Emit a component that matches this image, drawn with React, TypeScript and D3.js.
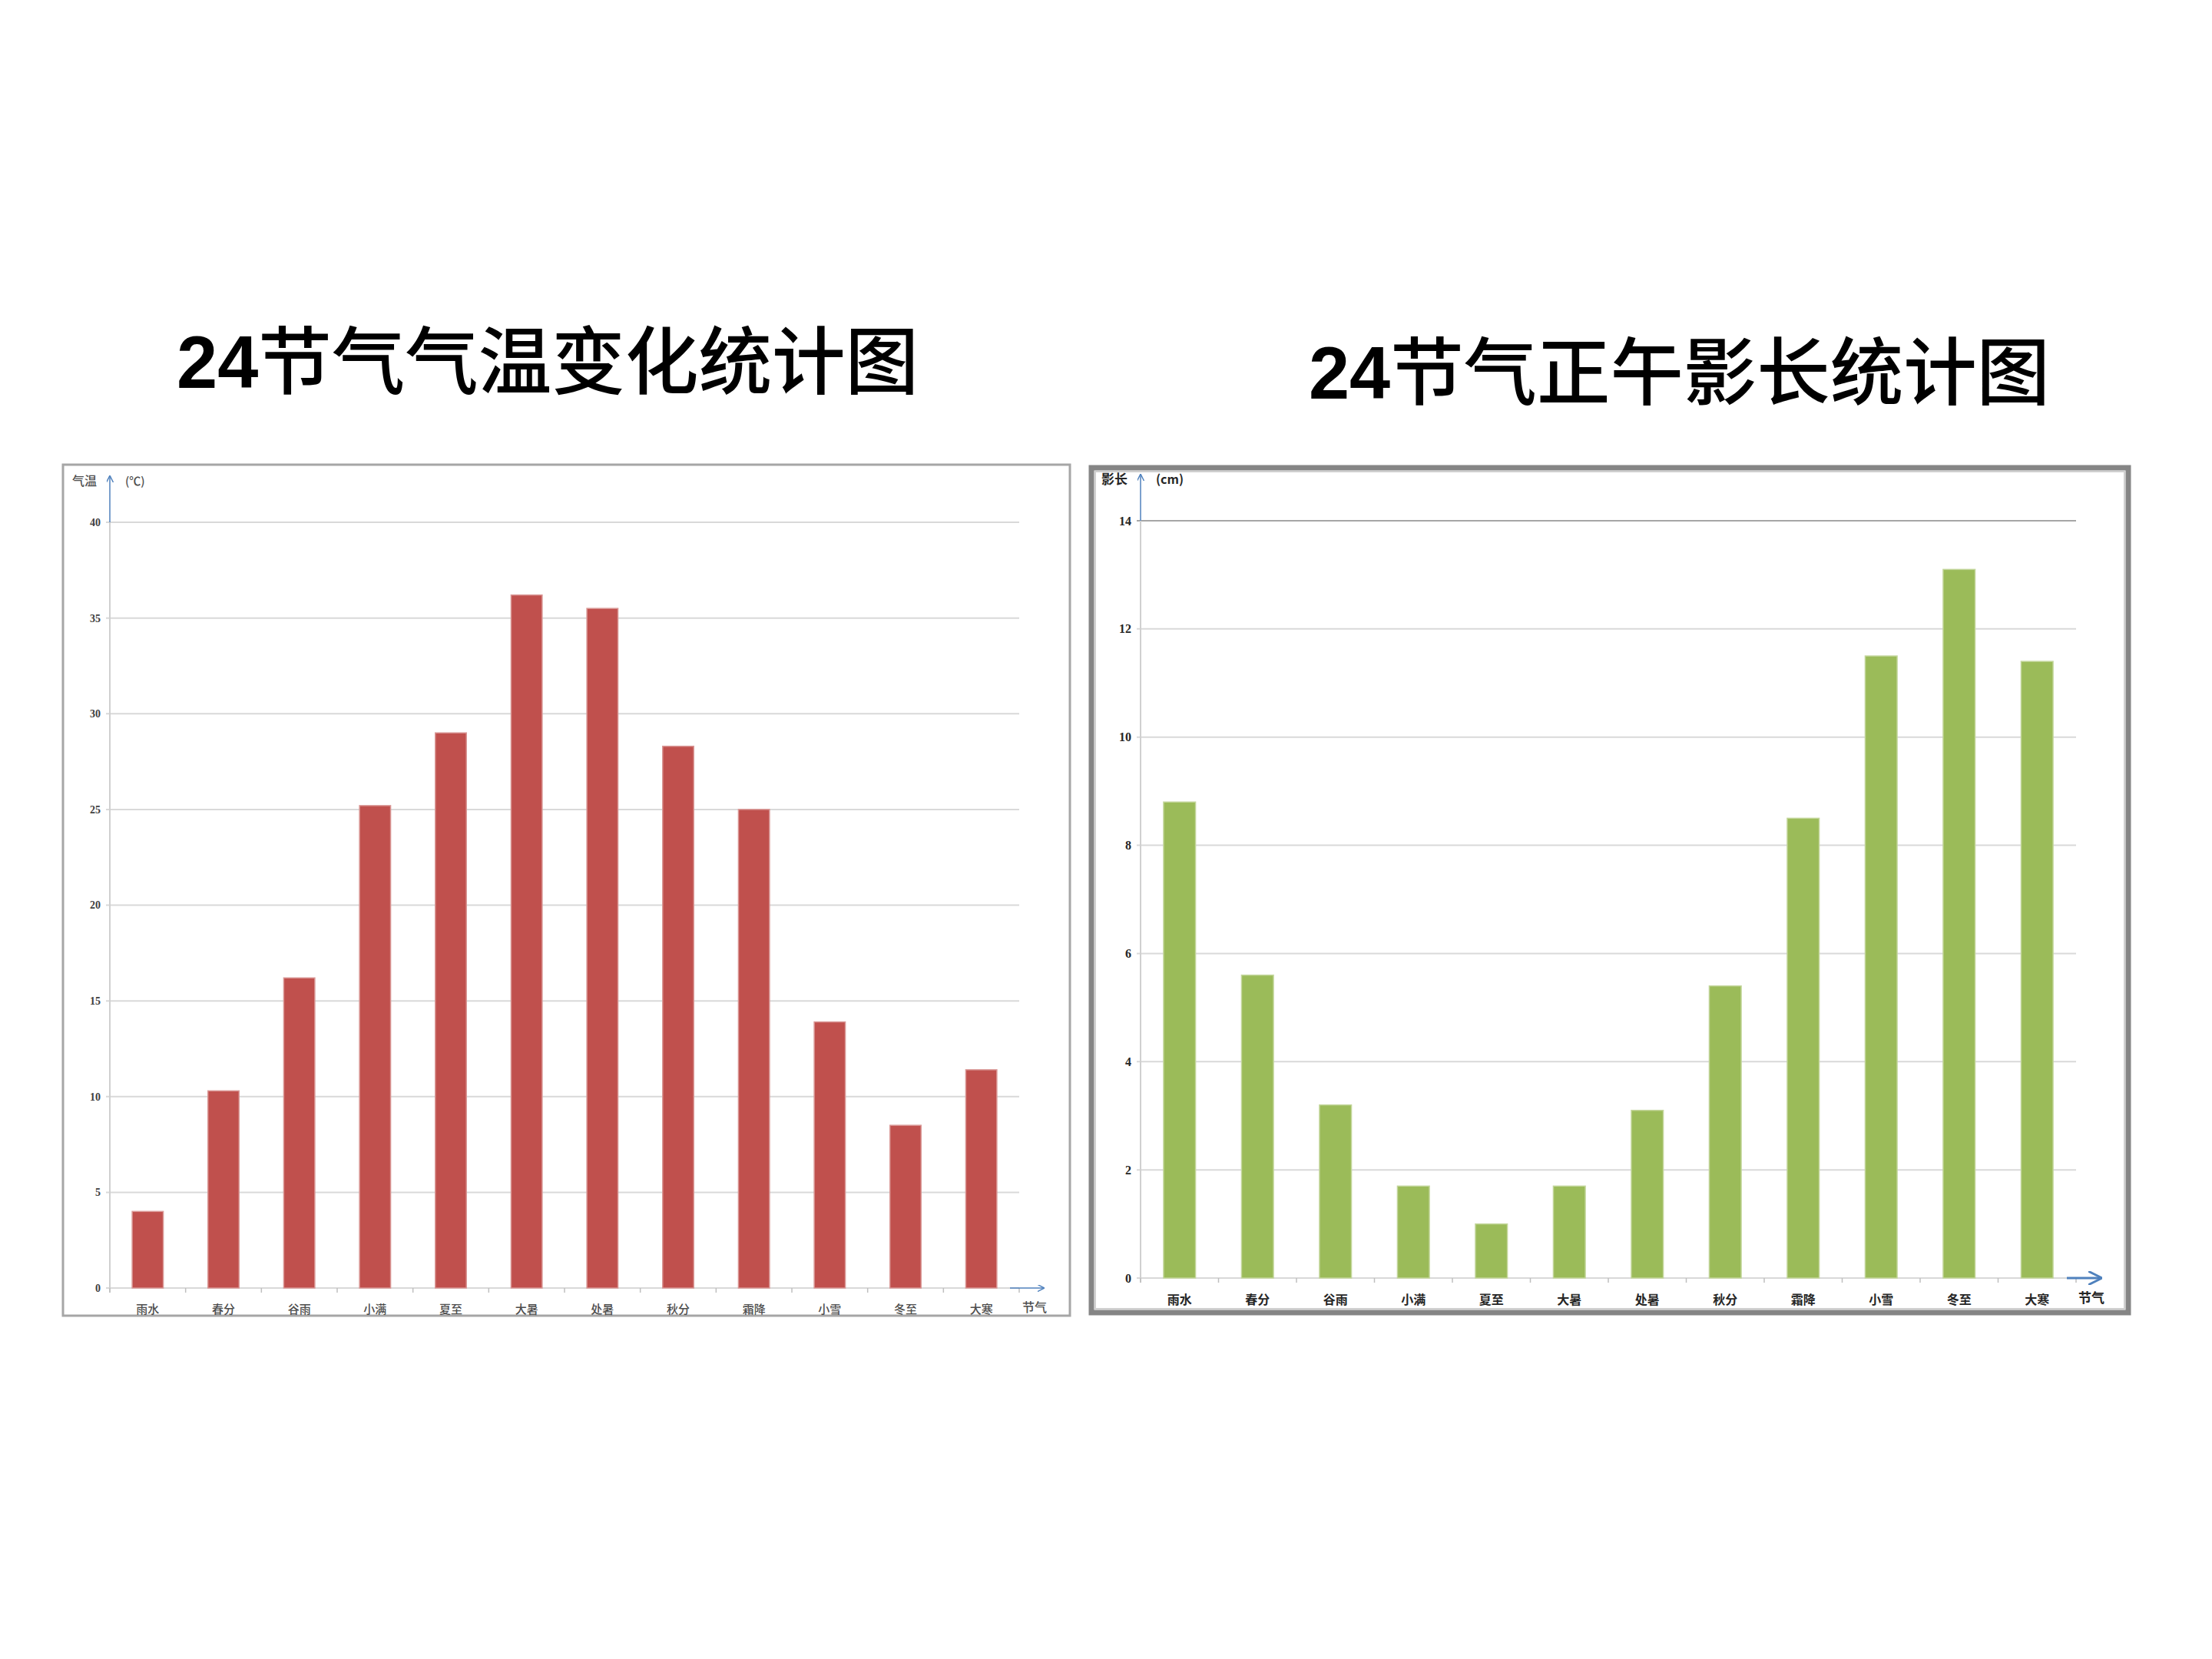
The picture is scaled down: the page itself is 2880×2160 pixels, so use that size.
import React from "react";
import * as d3 from "d3";

const solarTerms = ["雨水", "春分", "谷雨", "小满", "夏至", "大暑", "处暑", "秋分", "霜降", "小雪", "冬至", "大寒"];
const temperature = [4.0, 10.3, 16.2, 25.2, 29.0, 36.2, 35.5, 28.3, 25.0, 13.9, 8.5, 11.4];
const shadowLength = [8.8, 5.6, 3.2, 1.7, 1.0, 1.7, 3.1, 5.4, 8.5, 11.5, 13.1, 11.4];
const tempTicks = [0, 5, 10, 15, 20, 25, 30, 35, 40];
const shadowTicks = [0, 2, 4, 6, 8, 10, 12, 14];

const CJK = "'Noto Sans CJK SC', 'Liberation Sans', sans-serif";
const TITLE_FONT = "'Liberation Sans', 'Noto Sans CJK SC', sans-serif";

type PanelProps = {
  values: number[];
  ticks: number[];
  yMax: number;
  x0: number;
  x1: number;
  yTop: number;
  yBottom: number;
  color: string;
  edge: string;
  bold: boolean;
  yName: string;
  yUnit: string;
  id: string;
};

function Panel(p: PanelProps) {
  const x = d3.scaleBand<string>().domain(solarTerms).range([p.x0, p.x1]).padding(0);
  const y = d3.scaleLinear().domain([0, p.yMax]).range([p.yBottom, p.yTop]);
  const bw = x.bandwidth() * 0.41;
  const labelColor = p.bold ? "#262626" : "#4d4d4d";
  const weight = p.bold ? 700 : 500;
  const boundaries = d3.range(solarTerms.length + 1).map((i) => p.x0 + i * x.step());
  return (
    <g>
      <defs>
        <marker id={`arr-${p.id}`} viewBox="0 0 10 10" refX="9" refY="5" markerWidth="6" markerHeight="6" orient="auto">
          <path d="M0,0 L10,5 L0,10" fill="none" stroke="#4f81bd" strokeWidth="1.6" />
        </marker>
      </defs>
      {p.ticks.map((t) => (
        <line
          key={`g${t}`}
          x1={p.x0 - 5}
          x2={p.x1}
          y1={y(t)}
          y2={y(t)}
          stroke={t === p.yMax && p.bold ? "#a6a6a6" : "#d9d9d9"}
          strokeWidth={2}
        />
      ))}
      <line x1={p.x0} x2={p.x0} y1={p.yBottom + 6} y2={p.yTop} stroke="#d0d0d0" strokeWidth={2} />
      <line x1={p.x0} x2={p.x0} y1={p.yTop} y2={p.yTop - 60} stroke="#4f81bd" strokeWidth={1.5} markerEnd={`url(#arr-${p.id})`} />
      {boundaries.map((bx, i) => (
        <line key={`t${i}`} x1={bx} x2={bx} y1={p.yBottom} y2={p.yBottom + 6} stroke="#bfbfbf" strokeWidth={1.5} />
      ))}
      <line
        x1={p.x1 - 12}
        x2={p.x1 + 32}
        y1={p.yBottom}
        y2={p.yBottom}
        stroke="#4f81bd"
        strokeWidth={p.bold ? 3 : 1.5}
        markerEnd={`url(#arr-${p.id})`}
      />
      {p.values.map((v, i) => {
        const cx = (x(solarTerms[i]) as number) + x.bandwidth() / 2;
        return (
          <rect
            key={`b${i}`}
            x={cx - bw / 2}
            y={y(v)}
            width={bw}
            height={p.yBottom - y(v)}
            fill={p.color}
            stroke={p.edge}
            strokeWidth={1.5}
          />
        );
      })}
      {p.ticks.map((t) => (
        <text
          key={`yl${t}`}
          x={p.x0 - 12}
          y={y(t)}
          dy="0.35em"
          textAnchor="end"
          fontFamily="'Liberation Serif', serif"
          fontWeight={700}
          fontSize={p.bold ? 16 : 14}
          fill={p.bold ? "#262626" : "#404040"}
        >
          {t}
        </text>
      ))}
      {solarTerms.map((s) => (
        <text
          key={`xl${s}`}
          x={(x(s) as number) + x.bandwidth() / 2}
          y={p.yBottom + (p.bold ? 34 : 33)}
          textAnchor="middle"
          fontFamily={CJK}
          fontWeight={weight}
          fontSize={p.bold ? 16 : 15}
          fill={labelColor}
        >
          {s}
        </text>
      ))}
      <text
        x={p.x1 + 20}
        y={p.yBottom + (p.bold ? 32 : 31)}
        textAnchor="middle"
        fontFamily={CJK}
        fontWeight={weight}
        fontSize={p.bold ? 17 : 16}
        fill={labelColor}
      >
        节气
      </text>
      <text x={p.x0 - 17} y={p.yTop - 48} textAnchor="end" fontFamily={CJK} fontWeight={weight} fontSize={p.bold ? 17 : 16} fill={labelColor}>
        {p.yName}
      </text>
      <text x={p.x0 + 20} y={p.yTop - 48} textAnchor="start" fontFamily={CJK} fontWeight={weight} fontSize={p.bold ? 16 : 15} fill={labelColor}>
        {p.yUnit}
      </text>
    </g>
  );
}

function Title({ x, y, digits, rest, width }: { x: number; y: number; digits: string; rest: string; width: number }) {
  return (
    <text x={x} y={y} fontSize={96} fill="#000000" textLength={width} lengthAdjust="spacingAndGlyphs">
      <tspan fontFamily={TITLE_FONT} fontWeight={700}>{digits}</tspan>
      <tspan fontFamily={CJK} fontWeight={500}>{rest}</tspan>
    </text>
  );
}

export default function App() {
  return (
    <svg
      width={2880}
      height={2160}
      viewBox="0 0 2880 2160"
      style={{ position: "absolute", left: 0, top: 0, display: "block", background: "#ffffff" }}
    >
      <rect x={0} y={0} width={2880} height={2160} fill="#ffffff" />
      <Title x={230} y={505} digits="24" rest="节气气温变化统计图" width={966} />
      <Title x={1704} y={519} digits="24" rest="节气正午影长统计图" width={965} />

      <rect x={82} y={605} width={1311} height={1108} fill="#ffffff" stroke="#a6a6a6" strokeWidth={3} />
      <Panel
        id="temp"
        values={temperature}
        ticks={tempTicks}
        yMax={40}
        x0={143}
        x1={1327}
        yTop={680}
        yBottom={1677}
        color="#c0504d"
        edge="#d99694"
        bold={false}
        yName="气温"
        yUnit="(℃)"
      />

      <rect x={1421} y={609} width={1350} height={1100} fill="#ffffff" stroke="#858585" strokeWidth={7} />
      <rect x={1426} y={614} width={1340} height={1090} fill="none" stroke="#d0d0d0" strokeWidth={2} />
      <Panel
        id="shadow"
        values={shadowLength}
        ticks={shadowTicks}
        yMax={14}
        x0={1485}
        x1={2703}
        yTop={678}
        yBottom={1664}
        color="#9bbb59"
        edge="#c3d69b"
        bold={true}
        yName="影长"
        yUnit="(cm)"
      />
    </svg>
  );
}
